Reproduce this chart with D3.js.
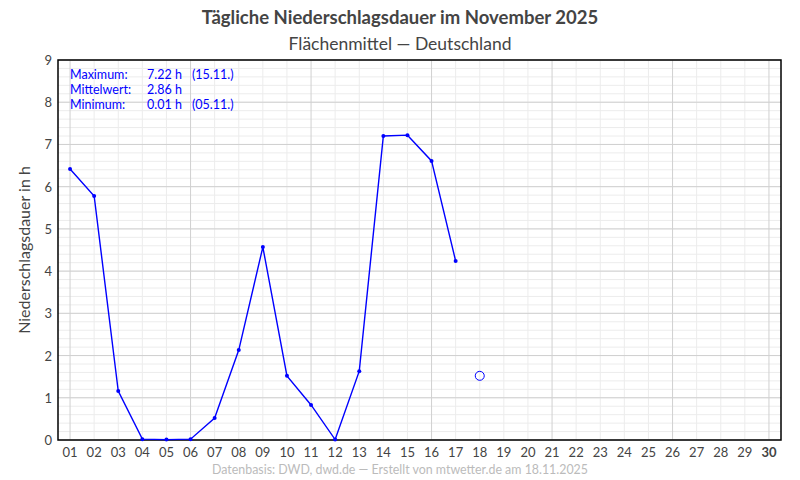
<!DOCTYPE html>
<head>
  <meta charset="utf-8">
  <script src="https://d3js.org/d3.v7.min.js"></script>
  <style>
    body { margin: 0; background: #fff; }
    text { font-family: Lato, "Noto Sans", sans-serif; }
  </style>
</head>
<body>
  <svg width="800" height="480"></svg>
  <script>

  // daily precipitation duration (h), November 2025
  var days = d3.range(1, 31);
  var dayLabels = days.map(function(d) { return d < 10 ? "0" + d : "" + d; });
  var values = [6.42, 5.78, 1.16, 0.02, 0.01, 0.02, 0.52, 2.13, 4.57, 1.52,
                0.83, 0.01, 1.63, 7.20, 7.22, 6.61, 4.24];
  var partialDay = 18, partialValue = 1.52;
  var yTicks = d3.range(0, 10);

  var svg = d3.select("svg"),
  width = +svg.attr("width"),
  height = +svg.attr("height");

  var margin = {left: 58, right: 19, top: 60, bottom: 40};

  var x = d3.scaleLinear()
  .domain([0.5, 30.5])
  .range([margin.left, width - margin.right]);

  var y = d3.scaleLinear()
  .domain([0, 9])
  .range([height - margin.bottom, margin.top]);

  // grid
  var grid = svg.append("g").attr("class", "grid");

  grid.selectAll("line.ymin")
  .data(d3.range(0, 9.01, 0.2))
  .enter().append("line")
  .attr("x1", x(0.5)).attr("x2", x(30.5))
  .attr("y1", function(d) { return y(d); })
  .attr("y2", function(d) { return y(d); })
  .attr("stroke", "#ececec");

  grid.selectAll("line.xmin")
  .data(days)
  .enter().append("line")
  .attr("y1", y(0)).attr("y2", y(9))
  .attr("x1", function(d) { return x(d); })
  .attr("x2", function(d) { return x(d); })
  .attr("stroke", function(d) { return (d % 5 == 1 || d == 30) ? "#d0d0d0" : "#ececec"; });

  grid.selectAll("line.ymaj")
  .data(yTicks)
  .enter().append("line")
  .attr("x1", x(0.5)).attr("x2", x(30.5))
  .attr("y1", function(d) { return y(d); })
  .attr("y2", function(d) { return y(d); })
  .attr("stroke", "#d0d0d0");

  // frame
  svg.append("rect")
  .attr("x", x(0.5)).attr("y", y(9))
  .attr("width", x(30.5) - x(0.5))
  .attr("height", y(0) - y(9))
  .attr("fill", "none")
  .attr("stroke", "#000")
  .attr("stroke-width", 1.5);

  // axes labels
  svg.append("g").selectAll("text")
  .data(yTicks)
  .enter().append("text")
  .attr("x", x(0.5) - 6)
  .attr("y", function(d) { return y(d) + 5; })
  .attr("text-anchor", "end")
  .attr("font-size", 13)
  .attr("fill", "#444")
  .text(function(d) { return d; });

  svg.append("g").selectAll("text")
  .data(days)
  .enter().append("text")
  .attr("x", function(d) { return x(d); })
  .attr("y", y(0) + 17)
  .attr("text-anchor", "middle")
  .attr("font-size", 13)
  .attr("font-weight", function(d) { return d == 30 ? "bold" : "normal"; })
  .attr("fill", "#444")
  .text(function(d, i) { return dayLabels[i]; });

  svg.append("text")
  .attr("transform", "translate(30," + ((y(0) + y(9)) / 2) + ") rotate(-90)")
  .attr("text-anchor", "middle")
  .attr("font-size", 16)
  .attr("fill", "#444")
  .text("Niederschlagsdauer in h");

  // titles
  svg.append("text")
  .attr("x", width / 2).attr("y", 24)
  .attr("text-anchor", "middle")
  .attr("font-size", 18.5)
  .attr("font-weight", "bold")
  .attr("fill", "#444")
  .text("Tägliche Niederschlagsdauer im November 2025");

  svg.append("text")
  .attr("x", width / 2).attr("y", 50)
  .attr("text-anchor", "middle")
  .attr("font-size", 17.5)
  .attr("fill", "#444")
  .text("Flächenmittel — Deutschland");

  svg.append("text")
  .attr("x", width / 2).attr("y", 474)
  .attr("text-anchor", "middle")
  .attr("font-size", 12.4)
  .attr("fill", "#bbb")
  .text("Datenbasis: DWD, dwd.de — Erstellt von mtwetter.de am 18.11.2025");

  // line + points
  var pts = values.map(function(v, i) { return {day: i + 1, v: v}; });

  var line = d3.line()
  .x(function(d) { return x(d.day); })
  .y(function(d) { return y(d.v); });

  svg.append("path")
  .datum(pts)
  .attr("d", line)
  .attr("fill", "none")
  .attr("stroke", "#0000ff")
  .attr("stroke-width", 1.4);

  svg.append("g").selectAll("circle")
  .data(pts)
  .enter().append("circle")
  .attr("cx", function(d) { return x(d.day); })
  .attr("cy", function(d) { return y(d.v); })
  .attr("r", 2)
  .attr("fill", "#0000ff");

  svg.append("circle")
  .attr("cx", x(partialDay))
  .attr("cy", y(partialValue))
  .attr("r", 4.5)
  .attr("fill", "none")
  .attr("stroke", "#0000ff")
  .attr("stroke-width", 1);

  // stats box
  var all = values.concat([partialValue]);
  var maxV = d3.max(all), minV = d3.min(all);
  var fmt = d3.format(".2f");
  var stats = [
    ["Maximum:", fmt(maxV) + " h", "(" + dayLabels[all.indexOf(maxV)] + ".11.)"],
    ["Mittelwert:", fmt(d3.mean(all)) + " h", ""],
    ["Minimum:", fmt(minV) + " h", "(" + dayLabels[all.indexOf(minV)] + ".11.)"]
  ];

  var st = svg.append("g").selectAll("g")
  .data(stats)
  .enter().append("g")
  .attr("transform", function(d, i) { return "translate(70," + (79 + i * 15) + ")"; });

  [0, 77, 122].forEach(function(off, k) {
    st.append("text")
    .attr("x", off)
    .attr("font-size", 12.5)
    .attr("fill", "#0000ff")
    .text(function(d) { return d[k]; });
  });

  </script>
</body>
